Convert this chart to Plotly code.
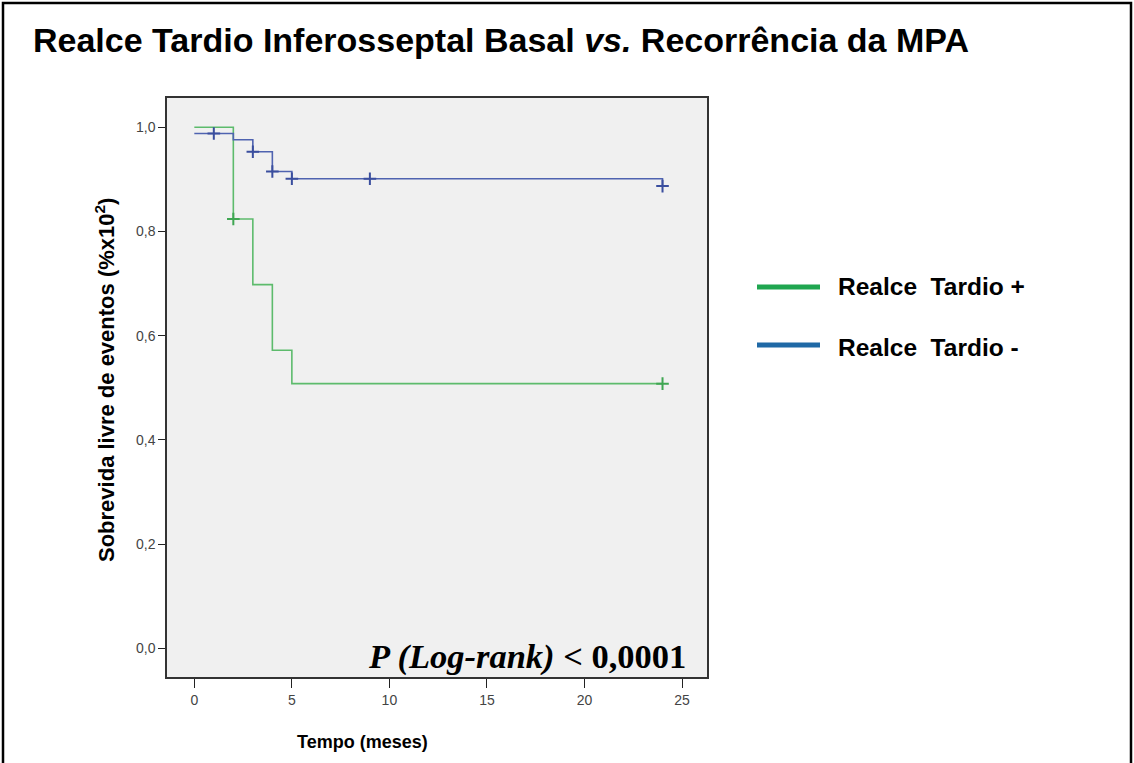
import plotly.graph_objects as go

# ---- data ----
# Realce Tardio + (green) step curve
pos_time = [0, 2, 3, 4, 5, 24]
pos_surv = [1.000, 0.824, 0.698, 0.572, 0.508, 0.508]
pos_cens_time = [2, 24]
pos_cens_surv = [0.824, 0.508]

# Realce Tardio - (blue) step curve
neg_time = [0, 2, 3, 4, 5, 24, 24]
neg_surv = [0.988, 0.976, 0.953, 0.915, 0.901, 0.901, 0.887]
neg_cens_time = [1, 3, 4, 5, 9, 24]
neg_cens_surv = [0.988, 0.953, 0.915, 0.901, 0.901, 0.887]

x_ticks = [0, 5, 10, 15, 20, 25]
y_ticks = [0.0, 0.2, 0.4, 0.6, 0.8, 1.0]
y_tick_text = ["0,0", "0,2", "0,4", "0,6", "0,8", "1,0"]

legend_names = ["Realce  Tardio +", "Realce  Tardio -"]

GREEN_LINE = "#5DBB6C"
BLUE_LINE = "#4F63B0"
GREEN_LEG = "#1FA650"
BLUE_LEG = "#1F69A6"

fig = go.Figure()

fig.add_trace(go.Scatter(x=pos_time, y=pos_surv, mode="lines",
                         line=dict(color=GREEN_LINE, width=1.6, shape="hv"),
                         showlegend=False, hoverinfo="skip"))
fig.add_trace(go.Scatter(x=neg_time, y=neg_surv, mode="lines",
                         line=dict(color=BLUE_LINE, width=1.6, shape="hv"),
                         showlegend=False, hoverinfo="skip"))
fig.add_trace(go.Scatter(x=pos_cens_time, y=pos_cens_surv, mode="markers",
                         marker=dict(symbol="cross-thin", size=9,
                                     line=dict(color="#3FA652", width=2)),
                         showlegend=False, hoverinfo="skip"))
fig.add_trace(go.Scatter(x=neg_cens_time, y=neg_cens_surv, mode="markers",
                         marker=dict(symbol="cross-thin", size=9,
                                     line=dict(color="#3A4E9E", width=2)),
                         showlegend=False, hoverinfo="skip"))

L, R, T, B = 167, 707, 98, 677
W, H = 1134, 763
pw, ph = R - L, B - T


def px(x):
    return (x - L) / pw


def py(y):
    return (B - y) / ph


fig.update_layout(
    width=W, height=H,
    margin=dict(l=L, r=W - R, t=T, b=H - B, pad=0),
    paper_bgcolor="white",
    plot_bgcolor="#F0F0F0",
    font=dict(family="Liberation Sans, Arial, sans-serif", color="#000"),
    xaxis=dict(range=[-1.4, 26.28], tickvals=x_ticks,
               ticks="outside", ticklen=9, tickcolor="#222", tickwidth=1,
               showgrid=False, zeroline=False,
               showline=True, linecolor="#333", linewidth=1.5, mirror=True,
               tickfont=dict(size=14, color="#444")),
    yaxis=dict(range=[-0.0547, 1.056], tickvals=y_ticks, ticktext=y_tick_text,
               ticks="outside", ticklen=7, tickcolor="#222", tickwidth=1,
               showgrid=False, zeroline=False,
               showline=True, linecolor="#333", linewidth=1.5, mirror=True,
               tickfont=dict(size=14, color="#444")),
    showlegend=False,
)

annotations = [
    dict(text="<b>Realce Tardio Inferosseptal Basal <i>vs.</i> Recorrência da MPA</b>",
         xref="paper", yref="paper", x=px(31), y=py(40),
         xanchor="left", yanchor="middle", showarrow=False,
         font=dict(size=34, family="Liberation Sans, Arial, sans-serif", color="#000")),
    dict(text="<b>Sobrevida livre de eventos (%x10<sup>2</sup>)</b>",
         xref="paper", yref="paper", x=px(105), y=py(380),
         xanchor="center", yanchor="middle", textangle=-90, showarrow=False,
         font=dict(size=22, color="#000")),
    dict(text="<b>Tempo (meses)</b>",
         xref="paper", yref="paper", x=px(362), y=py(742),
         xanchor="center", yanchor="middle", showarrow=False,
         font=dict(size=18, color="#000")),
    dict(text="<b><i>P (Log-rank)</i> &lt; 0,0001</b>",
         xref="paper", yref="paper", x=px(688), y=py(656),
         xanchor="right", yanchor="middle", showarrow=False,
         font=dict(size=34.5, family="Liberation Serif, Times New Roman, serif", color="#000")),
    dict(text="<b>" + legend_names[0] + "</b>",
         xref="paper", yref="paper", x=px(836), y=py(286),
         xanchor="left", yanchor="middle", showarrow=False,
         font=dict(size=24.5, color="#000")),
    dict(text="<b>" + legend_names[1] + "</b>",
         xref="paper", yref="paper", x=px(836), y=py(347),
         xanchor="left", yanchor="middle", showarrow=False,
         font=dict(size=24.5, color="#000")),
]

shapes = [
    dict(type="line", xref="paper", yref="paper", x0=px(757), x1=px(820),
         y0=py(287), y1=py(287), line=dict(color=GREEN_LEG, width=5)),
    dict(type="line", xref="paper", yref="paper", x0=px(757), x1=px(820),
         y0=py(345), y1=py(345), line=dict(color=BLUE_LEG, width=5)),
    # outer frame (left, top, right)
    dict(type="path", xref="paper", yref="paper",
         path=f"M {px(3)} {py(775)} L {px(3)} {py(3)} L {px(1131)} {py(3)} L {px(1131)} {py(775)}",
         line=dict(color="#000", width=2.5)),
]

fig.update_layout(annotations=annotations, shapes=shapes)

fig.write_html("out.html")
